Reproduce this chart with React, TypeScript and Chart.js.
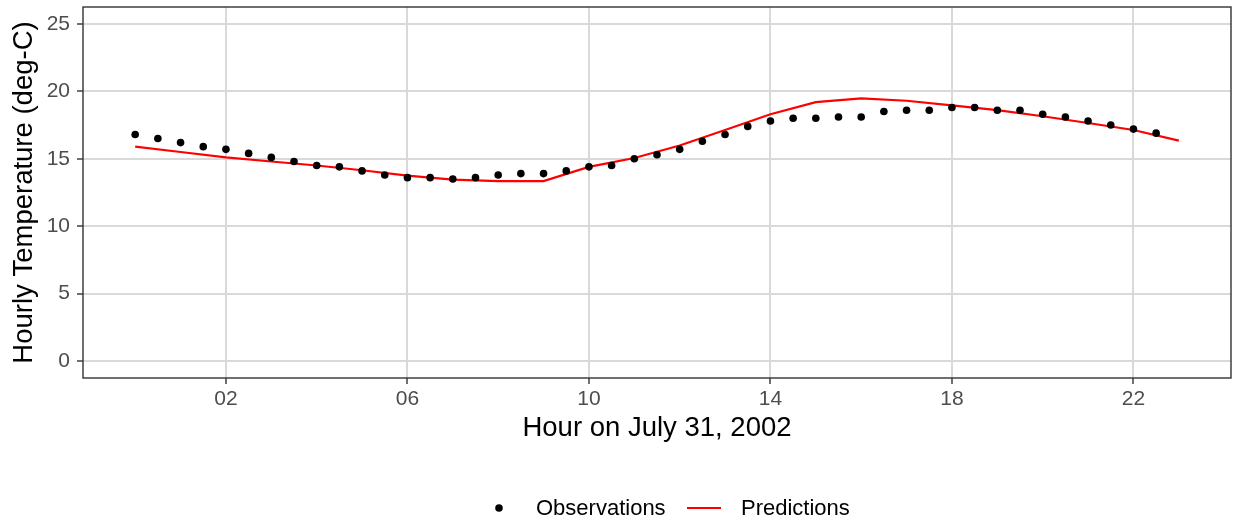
import { useEffect, useRef } from "react";
import { Chart, registerables } from "chart.js";

Chart.register(...registerables);

const FONT = '"Liberation Sans", Arial, Helvetica, sans-serif';

const obsHours = [
  0, 0.5, 1, 1.5, 2, 2.5, 3, 3.5, 4, 4.5, 5, 5.5, 6, 6.5, 7, 7.5, 8, 8.5, 9, 9.5,
  10, 10.5, 11, 11.5, 12, 12.5, 13, 13.5, 14, 14.5, 15, 15.5, 16, 16.5, 17, 17.5,
  18, 18.5, 19, 19.5, 20, 20.5, 21, 21.5, 22, 22.5,
];
const obsTemps = [
  16.8, 16.5, 16.2, 15.9, 15.7, 15.4, 15.1, 14.8, 14.5, 14.4, 14.1, 13.8, 13.6, 13.6,
  13.5, 13.6, 13.8, 13.9, 13.9, 14.1, 14.4, 14.5, 15.0, 15.3, 15.7, 16.3, 16.8, 17.4,
  17.8, 18.0, 18.0, 18.1, 18.1, 18.5, 18.6, 18.6, 18.8, 18.8, 18.6, 18.6, 18.3, 18.1,
  17.8, 17.5, 17.2, 16.9,
];
const predHours = [
  0, 1, 2, 3, 4, 5, 6, 7, 8, 9, 10, 11, 12, 13, 14, 15, 16, 17, 18, 19, 20, 21, 22, 23,
];
const predTemps = [
  15.9, 15.5, 15.1, 14.8, 14.5, 14.15, 13.75, 13.45, 13.34, 13.34, 14.4, 15.06, 15.98,
  17.13, 18.3, 19.2, 19.48, 19.3, 18.96, 18.6, 18.15, 17.65, 17.13, 16.35,
];

const xTickValues = [2, 6, 10, 14, 18, 22];
const xTickLabels = ["02", "06", "10", "14", "18", "22"];
const yTickValues = [0, 5, 10, 15, 20, 25];
const yTickLabels = ["0", "5", "10", "15", "20", "25"];
const legendLabels = ["Observations", "Predictions"];
const xTitle = "Hour on July 31, 2002";
const yTitle = "Hourly Temperature (deg-C)";

export default function App() {
  const ref = useRef<HTMLCanvasElement>(null);

  useEffect(() => {
    const canvas = ref.current;
    if (!canvas) return;

    const borderPlugin = {
      id: "panelBorder",
      afterDraw(chart: any) {
        const { ctx, chartArea: a } = chart;
        ctx.save();
        ctx.strokeStyle = "#333333";
        ctx.lineWidth = 1.4;
        ctx.strokeRect(a.left, a.top, a.right - a.left, a.bottom - a.top);
        ctx.restore();
      },
    };

    const legendPlugin = {
      id: "customLegend",
      afterDraw(chart: any) {
        const ctx = chart.ctx;
        const y = 508;
        ctx.save();
        ctx.font = `22px ${FONT}`;
        ctx.textBaseline = "middle";
        ctx.textAlign = "left";
        ctx.fillStyle = "#000000";
        ctx.beginPath();
        ctx.arc(499, y, 3.8, 0, Math.PI * 2);
        ctx.fill();
        ctx.fillText(legendLabels[0], 536, y + 1);
        ctx.strokeStyle = "#ff0000";
        ctx.lineWidth = 2.2;
        ctx.beginPath();
        ctx.moveTo(687, y);
        ctx.lineTo(721, y);
        ctx.stroke();
        ctx.fillText(legendLabels[1], 741, y + 1);
        ctx.restore();
      },
    };

    const chart = new Chart(canvas, {
      type: "scatter",
      data: {
        datasets: [
          {
            type: "scatter",
            label: legendLabels[0],
            data: obsHours.map((h, i) => ({ x: h, y: obsTemps[i] })),
            pointRadius: 3.8,
            pointBackgroundColor: "#000000",
            pointBorderWidth: 0,
            showLine: false,
            order: 0,
          } as any,
          {
            type: "line",
            label: legendLabels[1],
            data: predHours.map((h, i) => ({ x: h, y: predTemps[i] })),
            borderColor: "#ff0000",
            borderWidth: 2.2,
            pointRadius: 0,
            tension: 0,
            fill: false,
            order: 1,
          } as any,
        ],
      },
      options: {
        responsive: false,
        animation: false,
        events: [],
        layout: { padding: { top: 7, right: 5, left: 0, bottom: 0 } },
        plugins: {
          legend: { display: false },
          tooltip: { enabled: false },
        },
        scales: {
          x: {
            type: "linear",
            min: -1.15,
            max: 24.15,
            afterBuildTicks: (s: any) => {
              s.ticks = xTickValues.map((v) => ({ value: v }));
            },
            afterFit: (s: any) => {
              s.height = 143;
              s.paddingLeft = 0;
              s.paddingRight = 0;
            },
            grid: {
              color: "#d9d9d9",
              lineWidth: 2,
              tickColor: "#333333",
              tickLength: 6,
              tickWidth: 1.4,
            },
            border: { display: false },
            ticks: {
              color: "#4d4d4d",
              font: { family: FONT, size: 21 },
              padding: 3,
              maxRotation: 0,
              autoSkip: false,
              callback: (v: any) => {
                const i = xTickValues.indexOf(Number(v));
                return i >= 0 ? xTickLabels[i] : "";
              },
            },
            title: {
              display: true,
              text: xTitle,
              color: "#000000",
              font: { family: FONT, size: 27.5 },
              padding: { top: 0, bottom: 76 },
            },
          },
          y: {
            type: "linear",
            min: -1.25,
            max: 26.25,
            afterBuildTicks: (s: any) => {
              s.ticks = yTickValues.map((v) => ({ value: v }));
            },
            afterFit: (s: any) => {
              s.width = 83;
              s.paddingTop = 0;
              s.paddingBottom = 0;
            },
            grid: {
              color: "#d9d9d9",
              lineWidth: 2,
              tickColor: "#333333",
              tickLength: 6,
              tickWidth: 1.4,
            },
            border: { display: false },
            ticks: {
              color: "#4d4d4d",
              font: { family: FONT, size: 21 },
              padding: 7,
              autoSkip: false,
              callback: (v: any) => {
                const i = yTickValues.indexOf(Number(v));
                return i >= 0 ? yTickLabels[i] : "";
              },
            },
            title: {
              display: true,
              text: yTitle,
              color: "#000000",
              font: { family: FONT, size: 27.5 },
              padding: { top: 8, bottom: 0 },
            },
          },
        },
      },
      plugins: [borderPlugin, legendPlugin],
    } as any);

    return () => chart.destroy();
  }, []);

  return (
    <div style={{ position: "absolute", left: 0, top: 0, width: 1236, height: 521 }}>
      <canvas ref={ref} width={1236} height={521} style={{ display: "block" }} />
    </div>
  );
}
